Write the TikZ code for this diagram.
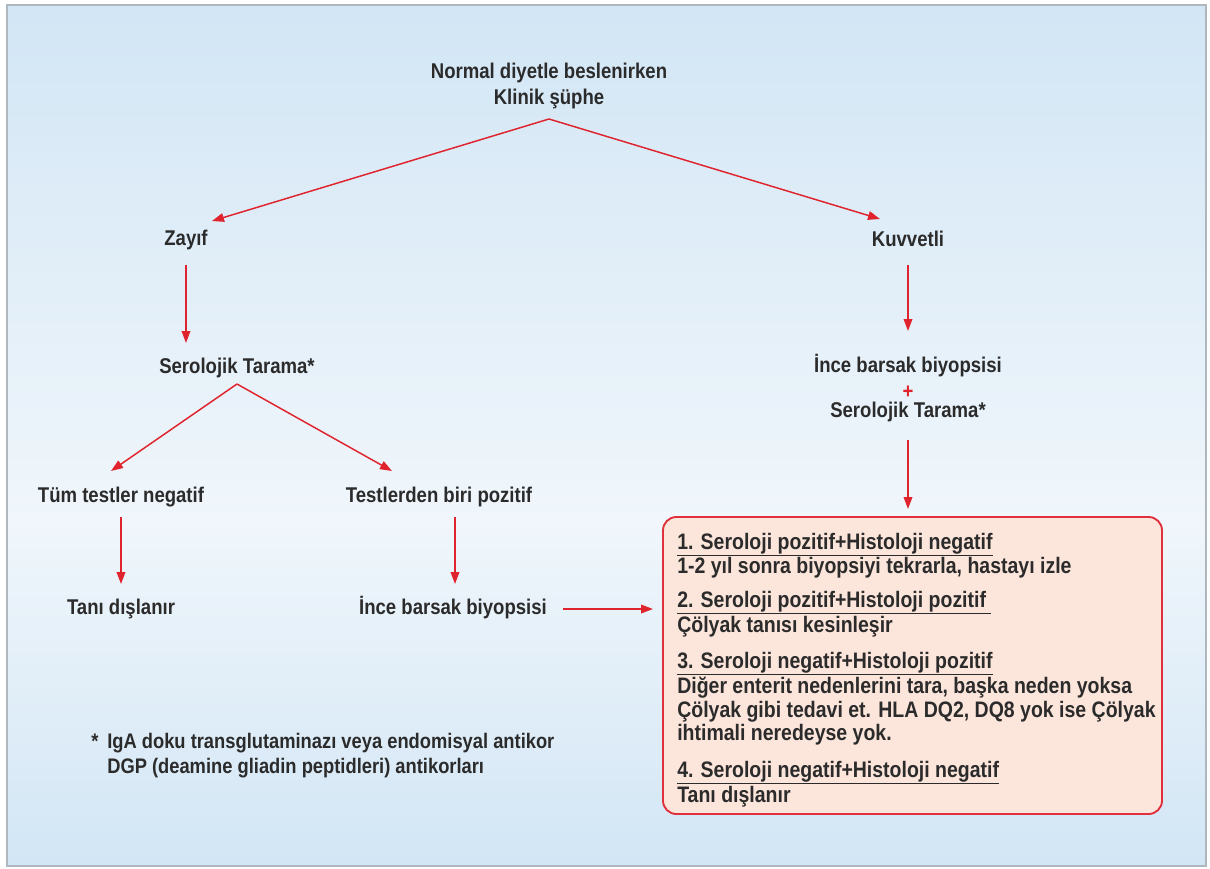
\documentclass[tikz,border=0pt]{standalone}
\usepackage{fontspec}
\setmainfont{Liberation Sans}[FakeStretch=0.87]
\usetikzlibrary{arrows.meta}
\definecolor{txt}{HTML}{2B2B2B}
\definecolor{arr}{HTML}{E0242E}
\definecolor{bgA}{HTML}{D2E6F5}
\definecolor{bgB}{HTML}{F0F6FB}
\definecolor{boxfill}{HTML}{FCE5DB}
\definecolor{boxline}{HTML}{E0303C}
\definecolor{frame}{HTML}{AEB6BE}
\begin{document}
\begin{tikzpicture}[x=0.75pt,y=-0.75pt,
  lbl/.style={font=\bfseries\fontsize{16}{19}\selectfont, text=txt, inner sep=0pt, anchor=base},
  bl/.style={lbl, anchor=base west, font=\bfseries\fontsize{16.8}{19}\selectfont},
  fnl/.style={lbl, anchor=base west, font=\bfseries\fontsize{15.8}{19}\selectfont},
  conn/.style={draw=arr, line width=1.1pt, -{Triangle[length=9pt,width=6.5pt]}, fill=arr},
  resbox/.style={draw=boxline, fill=boxfill, line width=1.4pt, rounded corners=10pt, inner sep=0pt}]
\useasboundingbox (0,0) rectangle (1210,868);
\fill[white] (0,0) rectangle (1210,868);
\shade[top color=bgA, bottom color=bgB] (7,5) rectangle (1206,520);
\shade[top color=bgB, bottom color=bgA] (7,520) rectangle (1206,866);
\draw[frame, line width=1.6pt] (7,5) rectangle (1206,866);

% texts
\node[lbl] (top1) at (549,78) {Normal diyetle beslenirken};
\node[lbl] (top2) at (549,104) {Klinik şüphe};
\node[lbl] (zayif) at (186,245) {Zayıf};
\node[lbl] (kuv) at (908,246) {Kuvvetli};
\node[lbl] (serL) at (237,373) {Serolojik Tarama*};
\node[lbl] (tum) at (121,502) {Tüm testler negatif};
\node[lbl] (test) at (439,502) {Testlerden biri pozitif};
\node[lbl] (tani) at (121,614) {Tanı dışlanır};
\node[lbl] (inceL) at (453,614) {İnce barsak biyopsisi};
\node[lbl] (inceR) at (908,372) {İnce barsak biyopsisi};
\node[lbl, text=arr] (plus) at (908,398) {+};
\node[lbl] (serR) at (908,417) {Serolojik Tarama*};

% result box
\node[resbox, minimum width=374.25pt, minimum height=222.75pt] (res) at (912.5,665.5) {};
\node[bl] (r1a) at (677,549) {\underline{1. Seroloji pozitif+Histoloji negatif}};
\node[bl] (r1b) at (677,573) {1-2 yıl sonra biyopsiyi tekrarla, hastayı izle};
\node[bl] (r2a) at (677,607) {\underline{2. Seroloji pozitif+Histoloji pozitif\ }};
\node[bl] (r2b) at (677,632) {Çölyak tanısı kesinleşir};
\node[bl] (r3a) at (677,668) {\underline{3. Seroloji negatif+Histoloji pozitif}};
\node[bl] (r3b) at (677,693) {Diğer enterit nedenlerini tara, başka neden yoksa};
\node[bl] (r3c) at (677,717) {Çölyak gibi tedavi et. HLA DQ2, DQ8 yok ise Çölyak};
\node[bl] (r3d) at (677,740) {ihtimali neredeyse yok.};
\node[bl] (r4a) at (677,777) {\underline{4. Seroloji negatif+Histoloji negatif}};
\node[bl] (r4b) at (677,802) {Tanı dışlanır};

% footnote
\node[fnl] (star) at (91,748) {*};
\node[fnl] (fn1) at (107,748) {IgA doku transglutaminazı veya endomisyal antikor};
\node[fnl] (fn2) at (107,773) {DGP (deamine gliadin peptidleri) antikorları};

% connector end points
\coordinate (apex1) at (549,119);
\coordinate (tZ) at (212,221);
\coordinate (tK) at (880,219);
\coordinate (sZ) at (186,265);
\coordinate (eZ) at (186,343);
\coordinate (apex2) at (237,384);
\coordinate (tT) at (111,471);
\coordinate (tP) at (392,471);
\coordinate (sK) at (908,265);
\coordinate (eK) at (908,331);
\coordinate (sT) at (121,517);
\coordinate (eT) at (121,584);
\coordinate (sP) at (455,517);
\coordinate (eP) at (455,584);
\coordinate (sR) at (908,440);
\coordinate (eR) at (908,509);
\coordinate (sH) at (563,609);
\coordinate (eH) at (653,609);

\draw[conn] (apex1) -- (tZ);
\draw[conn] (apex1) -- (tK);
\draw[conn] (sZ) -- (eZ);
\draw[conn] (apex2) -- (tT);
\draw[conn] (apex2) -- (tP);
\draw[conn] (sK) -- (eK);
\draw[conn] (sT) -- (eT);
\draw[conn] (sP) -- (eP);
\draw[conn] (sR) -- (eR);
\draw[conn] (sH) -- (eH);
\end{tikzpicture}
\end{document}
